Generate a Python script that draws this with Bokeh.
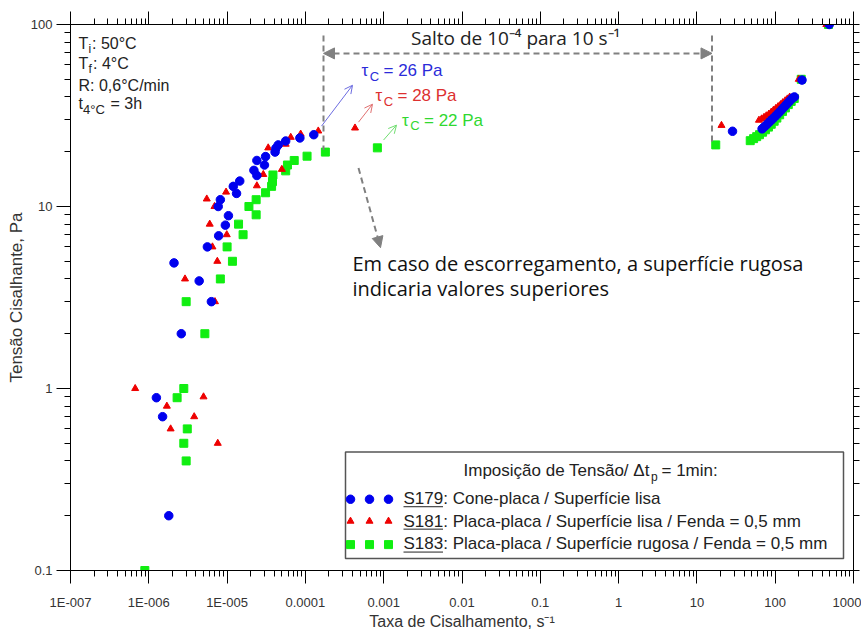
from bokeh.plotting import figure
from bokeh.models import (FixedTicker, CustomJSTickFormatter, LogAxis, Range1d, LinearScale,
                          Arrow, NormalHead, OpenHead)
from bokeh.core.properties import value
from bokeh.embed import file_html
from bokeh.resources import INLINE

# ---------------- data ----------------
x_tick_values = [1e-7, 1e-6, 1e-5, 1e-4, 1e-3, 1e-2, 1e-1, 1, 10, 100, 1000]
x_tick_labels = ["1E-007", "1E-006", "1E-005", "0.0001", "0.001", "0.01", "0.1", "1", "10", "100", "1000"]
y_tick_values = [0.1, 1, 10, 100]
y_tick_labels = ["0.1", "1", "10", "100"]

s179_rate = [2.1e-6, 4.4e-6, 6.3e-6, 5.6e-6, 7.8e-6, 9.5e-6, 1.04e-5, 7.7e-6, 8.2e-6, 1.32e-5,
             1.2e-5, 1.45e-5, 2.2e-5, 2.4e-5, 3.0e-5, 2.4e-5, 3.1e-5, 4.1e-5, 4.2e-5, 4.5e-5,
             5.6e-5, 8.5e-5, 1.28e-4, 2.6e-6, 1.25e-6, 1.5e-6, 1.8e-6, 28.5, 68, 72,
             77, 82, 87, 92, 98, 104, 110, 117, 124, 131, 139, 147, 156, 166, 176, 220, 490]
s179_stress = [4.9, 3.9, 3.0, 6.0, 6.9, 7.9, 8.9, 10.0, 10.9, 11.8,
               12.9, 13.8, 15.8, 14.8, 16.9, 17.9, 18.8, 19.9, 20.9, 21.8,
               22.9, 23.8, 24.8, 2.0, 0.89, 0.70, 0.20, 25.9, 26.7, 27.3,
               28.0, 28.8, 29.5, 30.2, 31.0, 31.8, 32.6, 33.5, 34.4, 35.3, 36.3, 37.3, 38.3, 39.4, 40.0, 49.5, 100]

s181_rate = [2.9e-6, 5.5e-6, 6.0e-6, 6.5e-6, 6.9e-6, 7.0e-6, 7.5e-6, 9.9e-6, 9.7e-6, 2.4e-5,
             2.9e-5, 3.35e-5, 5.0e-5, 5.6e-5, 6.5e-5, 8.7e-5, 1.46e-4, 4.3e-4, 6.7e-7, 1.7e-6,
             5.0e-6, 3.8e-6, 1.9e-6, 7.6e-6, 20.6, 62, 67, 72, 77, 83,
             89, 95, 102, 109, 117, 125, 134, 143, 153, 200, 450]
s181_stress = [4.0, 11.0, 8.0, 6.0, 10.0, 3.0, 5.0, 7.0, 12.0, 13.0,
               15.0, 21.0, 16.0, 22.0, 24.0, 25.0, 26.0, 27.0, 1.0, 0.80,
               0.90, 0.70, 0.60, 0.50, 27.9, 29.8, 30.3, 30.9, 31.5, 32.2,
               33.0, 33.8, 34.6, 35.4, 36.3, 37.2, 38.1, 39.0, 39.9, 50, 100]

s183_rate = [3.0e-6, 8.2e-6, 1.17e-5, 1.0e-5, 1.6e-5, 1.4e-5, 2.35e-5, 1.9e-5, 2.35e-5, 3.1e-5,
             3.7e-5, 3.8e-5, 3.85e-5, 5.6e-5, 5.9e-5, 7.2e-5, 1.05e-4, 1.8e-4, 8.3e-4, 5.2e-6,
             2.8e-6, 2.3e-6, 3.1e-6, 2.8e-6, 3.0e-6, 8.9e-7, 17.4, 48, 53, 58,
             63, 69, 75, 82, 89, 97, 105, 114, 124, 135, 147, 160, 175, 215, 480]
s183_stress = [3.0, 4.0, 5.0, 6.0, 7.0, 8.0, 9.0, 10.0, 10.9, 11.9,
               12.9, 13.7, 14.9, 15.7, 16.9, 17.9, 18.9, 19.9, 21.0, 2.0,
               1.0, 0.89, 0.60, 0.50, 0.40, 0.10, 21.8, 23.0, 23.6, 24.2,
               24.8, 25.6, 26.4, 27.3, 28.3, 29.4, 30.6, 31.9, 33.3, 34.8, 36.3, 37.8, 39.2, 50, 100]

BLUE, RED, GREEN = "#0000ee", "#ee0000", "#11ee11"
GRAY = "#808080"

# ---------------- figure ----------------
p = figure(width=861, height=632, x_axis_type="log", y_axis_type="log",
           x_range=Range1d(1e-7, 1e3), y_range=Range1d(0.1, 100),
           output_backend="svg", toolbar_location=None,
           min_border_left=70, min_border_right=8, min_border_top=24, min_border_bottom=60)
p.outline_line_color = "black"
p.outline_line_width = 1
p.xgrid.visible = False
p.ygrid.visible = False
p.background_fill_color = "white"
p.border_fill_color = "white"

# pixel-like coordinate system for annotations (page coordinates of the frame)
p.extra_x_ranges = {"px": Range1d(70, 853)}
p.extra_y_ranges = {"px": Range1d(572, 24)}
p.extra_x_scales = {"px": LinearScale()}
p.extra_y_scales = {"px": LinearScale()}

x_minor = [m * t for t in x_tick_values[:-1] for m in range(2, 10)]
y_minor = [m * t for t in y_tick_values[:-1] for m in range(2, 10)]


def fmt(vals, labs):
    return CustomJSTickFormatter(args=dict(vals=vals, labs=labs), code="""
        for (let i = 0; i < vals.length; i++) {
            if (Math.abs(Math.log10(vals[i]) - Math.log10(tick)) < 1e-6) { return labs[i]; }
        }
        return "";
    """)


def style_axis(ax, tick_out=13, minor_out=6):
    ax.axis_line_color = "black"
    ax.major_tick_line_color = "black"
    ax.minor_tick_line_color = "black"
    ax.major_tick_in = 0
    ax.minor_tick_in = 0
    ax.major_tick_out = tick_out
    ax.minor_tick_out = minor_out


xa = p.xaxis[0]
xa.ticker = FixedTicker(ticks=x_tick_values, minor_ticks=x_minor)
xa.formatter = fmt(x_tick_values, x_tick_labels)
style_axis(xa)
xa.major_label_text_font = "Liberation Sans"
xa.major_label_text_font_size = "13px"
xa.major_label_text_color = "#333333"
xa.major_label_standoff = 11
xa.axis_label = "Taxa de Cisalhamento, s⁻¹"
xa.axis_label_text_font = "Liberation Sans"
xa.axis_label_text_font_size = "16px"
xa.axis_label_text_font_style = "normal"
xa.axis_label_text_color = "#333333"
xa.axis_label_standoff = 0

ya = p.yaxis[0]
ya.ticker = FixedTicker(ticks=y_tick_values, minor_ticks=y_minor)
ya.formatter = fmt(y_tick_values, y_tick_labels)
style_axis(ya, 14, 6)
ya.major_label_text_font = "Liberation Sans"
ya.major_label_text_font_size = "13px"
ya.major_label_text_color = "#333333"
ya.major_label_standoff = 4
ya.axis_label = "Tensão Cisalhante, Pa"
ya.axis_label_text_font = "Liberation Sans"
ya.axis_label_text_font_size = "17px"
ya.axis_label_text_font_style = "normal"
ya.axis_label_text_color = "#333333"
ya.axis_label_standoff = 2

top = LogAxis(ticker=FixedTicker(ticks=x_tick_values, minor_ticks=x_minor),
              major_label_text_font_size="1px", major_label_text_alpha=0, major_label_standoff=0)
style_axis(top, 13, 6)
p.add_layout(top, "above")
right = LogAxis(ticker=FixedTicker(ticks=y_tick_values, minor_ticks=y_minor),
                major_label_text_font_size="1px", major_label_text_alpha=0, major_label_standoff=0)
style_axis(right, 6, 6)
p.add_layout(right, "right")

# ---------------- data marks ----------------
p.scatter(s183_rate, s183_stress, marker="square", size=8, fill_color=GREEN, line_color=GREEN)
p.scatter(s181_rate, s181_stress, marker="triangle", size=7, fill_color=RED, line_color=RED)
p.scatter(s179_rate, s179_stress, marker="circle", size=8.5, fill_color=BLUE, line_color=BLUE)


# ---------------- annotations ----------------
def txt(x, y, s, size, color="#222222", font="Liberation Sans", align="left"):
    k = 0.47 if font == "Open Sans" else 0.36   # baseline correction of the text glyph
    p.text(x=[x], y=[y - k * size], text=[s], x_range_name="px", y_range_name="px",
           text_font=value(font), text_font_size=f"{size}px", text_color=color,
           text_align=align, text_baseline="alphabetic")


# conditions box (top-left)
txt(78, 49, "T", 16)
txt(88, 52.5, "i", 12)
txt(91.5, 49, ": 50°C", 16)
txt(78, 69, "T", 16)
txt(88, 72.5, "f", 12)
txt(92.5, 69, ": 4°C", 16)
txt(78, 90.5, "R: 0,6°C/min", 16)
txt(78, 109.5, "t", 16)
txt(82.5, 113.5, "4°C", 13)
txt(110, 109.5, "= 3h", 16)

# jump annotation
p.segment(x0=[323, 711.5], y0=[35, 35], x1=[323, 711.5], y1=[150, 145],
          x_range_name="px", y_range_name="px", line_color=GRAY, line_width=2, line_dash="6 4")
p.add_layout(Arrow(x_start=323, y_start=53, x_end=711.5, y_end=53, x_range_name="px", y_range_name="px",
                   start=NormalHead(size=11, fill_color=GRAY, line_color=GRAY),
                   end=NormalHead(size=11, fill_color=GRAY, line_color=GRAY),
                   line_color=GRAY, line_width=2, line_dash="6 4"))
txt(410.5, 46.5, "Salto de 10⁻⁴ para 10 s⁻¹", 19, color="#222222", font="Open Sans")

# tau_c labels with arrows
for (xs, bl, lbl, tcol, acol, a0, a1) in [
        (361, 76, "= 26 Pa", "#2b2bd9", "#6c6ce0", (321, 126), (352, 85)),
        (375, 101, "= 28 Pa", "#dd3030", "#e07070", (358, 122), (372, 104)),
        (401.5, 126, "= 22 Pa", "#30d830", "#70dd70", (383, 140), (396, 125))]:
    txt(xs, bl, "τ", 17, color=tcol)
    txt(xs + 8.3, bl + 4.5, "C", 13, color=tcol)
    txt(xs + 22, bl, lbl, 17, color=tcol)
    p.add_layout(Arrow(x_start=a0[0], y_start=a0[1], x_end=a1[0], y_end=a1[1],
                       x_range_name="px", y_range_name="px",
                       end=OpenHead(size=8, line_color=acol, line_width=1),
                       line_color=acol, line_width=1))

# slip note
p.add_layout(Arrow(x_start=358, y_start=168, x_end=380, y_end=248, x_range_name="px", y_range_name="px",
                   end=NormalHead(size=11, fill_color=GRAY, line_color=GRAY),
                   line_color=GRAY, line_width=2, line_dash="6 4"))
txt(352, 273, "Em caso de escorregamento, a superfície rugosa", 20, color="#111111", font="Open Sans")
txt(352, 298, "indicaria valores superiores", 20, color="#111111", font="Open Sans")

# legend box
p.quad(left=[345], right=[843], top=[453], bottom=[560], x_range_name="px", y_range_name="px",
       fill_color="white", line_color="#555555", line_width=1.5)
txt(463, 478, "Imposição de Tensão/ Δt", 17, color="#222222")
txt(650.5, 482, "p", 12, color="#222222")
txt(661, 478, "= 1min:", 17, color="#222222")

rows = [(500.5, 506, "S179: Cone-placa / Superfície lisa", "circle", BLUE, 8.5),
        (522.5, 528.5, "S181: Placa-placa / Superfície lisa / Fenda = 0,5 mm", "triangle", RED, 7),
        (546, 551.5, "S183: Placa-placa / Superfície rugosa / Fenda = 0,5 mm", "square", GREEN, 8)]
for (yc, bl, label, mk, col, sz) in rows:
    p.scatter(x=[350, 369, 388], y=[yc] * 3, marker=mk, size=sz, fill_color=col, line_color=col,
              x_range_name="px", y_range_name="px")
    txt(403, bl, label, 17, color="#222222")
    p.segment(x0=[403], y0=[bl + 2], x1=[442.5], y1=[bl + 2], x_range_name="px", y_range_name="px",
              line_color="#222222", line_width=1)

open("out.html", "w").write(file_html(p, INLINE))
